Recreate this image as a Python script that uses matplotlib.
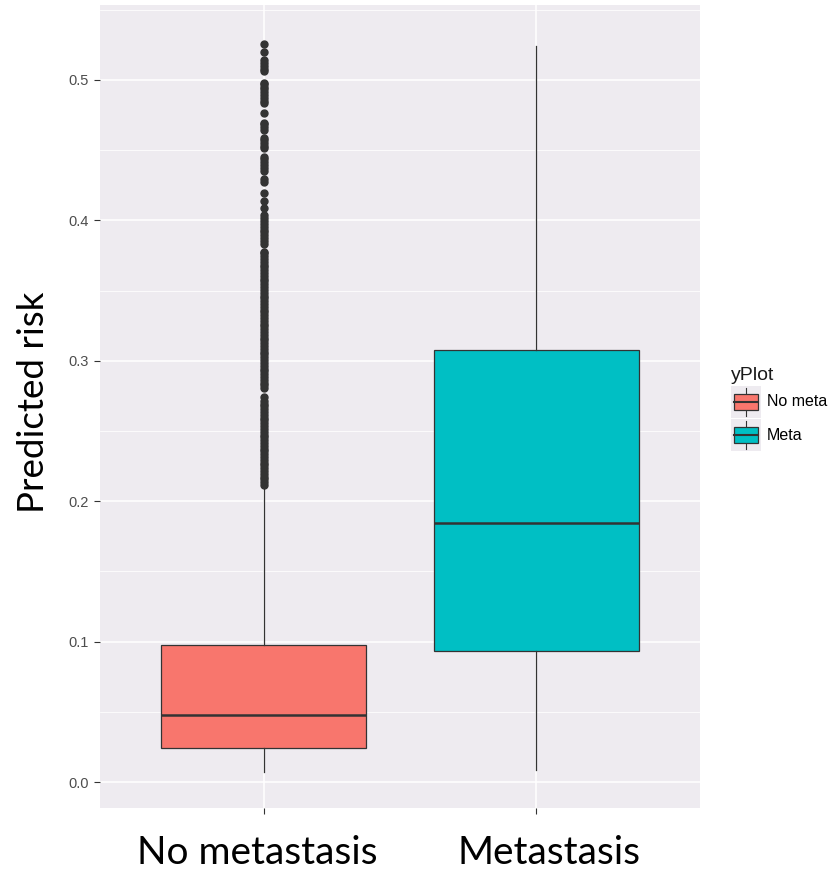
import matplotlib
matplotlib.use("Agg")
import matplotlib.pyplot as plt
from matplotlib.patches import Patch, Rectangle
from matplotlib.lines import Line2D
from matplotlib.legend_handler import HandlerBase

# Box statistics read per group
groups = ["No metastasis", "Metastasis"]
legend_labels = ["No meta", "Meta"]
fill_colors = ["#F8766D", "#00BFC4"]
q1 = [0.0242, 0.0933]
median = [0.0477, 0.1845]
q3 = [0.0976, 0.3077]
whisker_low = [0.0070, 0.0085]
whisker_high = [0.2085, 0.5244]

# Outlying predictions in the no-metastasis group
outliers_no_meta = [
    0.2115, 0.2135, 0.2155, 0.2175, 0.2195, 0.2215, 0.2235, 0.2255, 0.2275,
    0.2295, 0.2315, 0.2335, 0.2355, 0.2375, 0.2395, 0.2415, 0.2435, 0.2455,
    0.2475, 0.2495, 0.2515, 0.2535, 0.2555, 0.2575, 0.2595, 0.2615, 0.2635,
    0.2655, 0.2675, 0.2695, 0.2715, 0.2740,
    0.2805, 0.2825, 0.2845, 0.2865, 0.2885, 0.2905, 0.2925, 0.2945, 0.2965,
    0.2985, 0.3005, 0.3025, 0.3045, 0.3065, 0.3085, 0.3105, 0.3125, 0.3145,
    0.3165, 0.3185, 0.3205, 0.3225, 0.3245, 0.3265, 0.3285, 0.3305, 0.3325,
    0.3345, 0.3365, 0.3385, 0.3405, 0.3425, 0.3445, 0.3465, 0.3485, 0.3505,
    0.3525, 0.3545, 0.3565, 0.3585, 0.3605, 0.3625, 0.3645, 0.3665, 0.3685,
    0.3705, 0.3725, 0.3745, 0.3765, 0.3775,
    0.3835, 0.3855, 0.3875, 0.3895, 0.3915, 0.3935, 0.3955, 0.3975, 0.3995,
    0.4015, 0.4035,
    0.4088, 0.4140, 0.4192,
    0.4275, 0.4295,
    0.4355, 0.4375, 0.4395, 0.4415, 0.4435, 0.4455,
    0.4512, 0.4532, 0.4552, 0.4572, 0.4590,
    0.4645, 0.4665, 0.4685, 0.4695,
    0.4763,
    0.4833, 0.4853, 0.4873, 0.4893, 0.4913, 0.4933, 0.4953, 0.4973, 0.4982,
    0.5061, 0.5081, 0.5101, 0.5121, 0.5141,
    0.5196, 0.5256,
]
outliers_meta = []

panel_bg = "#EEEBF0"
dark = "#333333"


class BoxKeyHandler(HandlerBase):
    # ggplot-like boxplot key: grey square with whisker, box and median
    def create_artists(self, legend, orig_handle, xdescent, ydescent,
                       width, height, fontsize, trans):
        x0, y0 = -xdescent, -ydescent
        cx = x0 + width / 2
        bg = Rectangle((x0, y0), width, height, facecolor=panel_bg,
                       edgecolor="none", transform=trans)
        whisk = Line2D([cx, cx], [y0 + 0.06 * height, y0 + 0.94 * height],
                       color=dark, lw=0.8, transform=trans)
        box = Rectangle((x0 + 0.09 * width, y0 + 0.25 * height),
                        0.82 * width, 0.5 * height,
                        facecolor=orig_handle.get_facecolor(),
                        edgecolor=dark, lw=0.9, transform=trans)
        med = Line2D([x0 + 0.09 * width, x0 + 0.91 * width],
                     [y0 + 0.5 * height] * 2, color=dark, lw=1.5,
                     transform=trans)
        return [bg, whisk, box, med]


fig = plt.figure(figsize=(8.31, 8.73), dpi=100)
ax = fig.add_axes([100 / 831, 1 - 808 / 873, 600 / 831, 803 / 873])
ax.set_facecolor(panel_bg)

stats = []
for i in range(len(groups)):
    stats.append({
        "q1": q1[i], "med": median[i], "q3": q3[i],
        "whislo": whisker_low[i], "whishi": whisker_high[i],
        "fliers": [outliers_no_meta, outliers_meta][i],
    })

bp = ax.bxp(stats, positions=[1, 2], widths=0.75, patch_artist=True,
            showcaps=False,
            boxprops=dict(edgecolor=dark, linewidth=0.9),
            whiskerprops=dict(color=dark, linewidth=0.9),
            medianprops=dict(color=dark, linewidth=1.8),
            flierprops=dict(marker="o", markersize=5.0,
                            markerfacecolor=dark, markeredgecolor=dark))
for patch, c in zip(bp["boxes"], fill_colors):
    patch.set_facecolor(c)
for artist in bp["boxes"] + bp["whiskers"] + bp["medians"] + bp["fliers"]:
    artist.set_zorder(3)

ax.set_xlim(0.4, 2.6)
ax.set_ylim(-0.0185, 0.5534)

# grid: major every 0.1, minor halfway
ax.set_yticks([0.0, 0.1, 0.2, 0.3, 0.4, 0.5])
ax.set_yticks([0.05, 0.15, 0.25, 0.35, 0.45, 0.55], minor=True)
ax.set_yticklabels(["0.0", "0.1", "0.2", "0.3", "0.4", "0.5"])
ax.set_xticks([1, 2])
ax.set_xticklabels([])
ax.grid(True, which="major", color="white", linewidth=1.1, zorder=0)
ax.grid(True, which="minor", axis="y", color="white", linewidth=0.55, zorder=0)
ax.set_axisbelow(True)
for s in ax.spines.values():
    s.set_visible(False)

ax.tick_params(axis="y", which="major", length=4, width=0.8, color=dark,
               labelsize=10.5, labelcolor="#4D4D4D", pad=4)
ax.tick_params(axis="y", which="minor", length=0)
ax.tick_params(axis="x", length=4, width=0.8, color=dark)
for lab in ax.get_yticklabels():
    lab.set_fontfamily("Liberation Sans")

# group names sit under the boxes
group_label_x = [257.5, 549]
for name, px in zip(groups, group_label_x):
    fig.text(px / 831, 1 - 864 / 873, name, ha="center", va="baseline",
             fontsize=28, family="Lato", color="black")

fig.text(33.5 / 831, 1 - 402 / 873, "Predicted risk", rotation=90,
         ha="center", va="center", fontsize=26.5, family="Lato", color="black")

handles = [Patch(facecolor=c) for c in fill_colors]
leg = fig.legend(handles, legend_labels, title="yPlot",
                 handler_map={Patch: BoxKeyHandler()},
                 loc="upper left", bbox_to_anchor=(731 / 831, 1 - 367 / 873),
                 frameon=False, title_fontsize=14,
                 handlelength=1.88, handleheight=2.7, handletextpad=0.35,
                 labelspacing=0.1, borderpad=0.0, borderaxespad=0.0,
                 alignment="left",
                 prop={"family": "Liberation Sans", "size": 11.5})
leg.get_title().set_fontfamily("Liberation Sans")
leg.get_title().set_color("#1A1A1A")

fig.savefig("out.png", dpi=100)
